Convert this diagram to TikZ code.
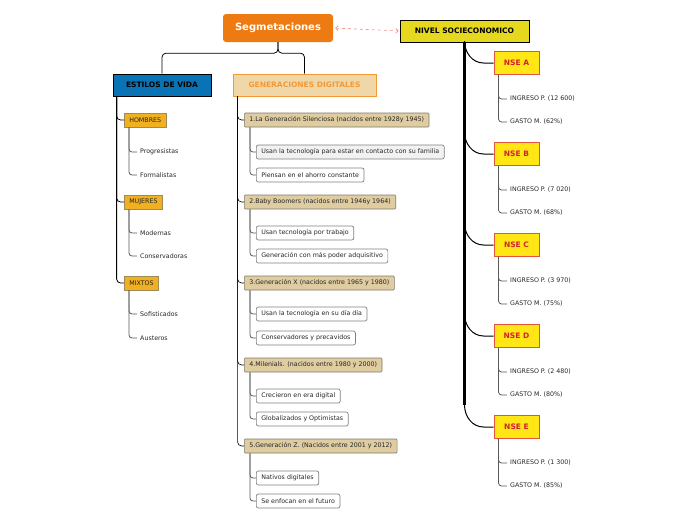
\documentclass[tikz,border=0pt]{standalone}
\usepackage{fontspec}
\setmainfont{DejaVu Sans}
\usetikzlibrary{positioning,arrows.meta}
\definecolor{segorange}{HTML}{EE7A12}
\definecolor{nivelyellow}{HTML}{E6D81E}
\definecolor{estblue}{HTML}{0A73B5}
\definecolor{gentan}{HTML}{EFD7A8}
\definecolor{genorange}{HTML}{F39A38}
\definecolor{gold}{HTML}{F0B020}
\definecolor{goldline}{HTML}{A08A5A}
\definecolor{tan}{HTML}{DFCCA0}
\definecolor{tanline}{HTML}{7E7A6E}
\definecolor{nseyellow}{HTML}{FFE614}
\definecolor{nseline}{HTML}{E2553A}
\definecolor{nsered}{HTML}{D42030}
\definecolor{salmon}{HTML}{F08A80}
\begin{document}
\begin{tikzpicture}[x = 1pt, y = -1pt,
  every node/.style = {font=\fontsize{6.3}{7.5}\selectfont, inner sep=0pt, text=black!85},
  rootbox/.style = {fill=segorange, rounded corners=3, minimum width=110, minimum height=28,
                    text=white, font=\fontsize{10}{12}\selectfont\bfseries},
  mainbox/.style = {draw=black, line width=0.8, minimum height=22, text=black,
                    font=\fontsize{7.5}{9}\selectfont\bfseries},
  goldbox/.style = {draw=goldline, fill=gold, line width=0.6, minimum height=14, inner xsep=5},
  tanbox/.style = {draw=tanline, fill=tan, line width=0.6, minimum height=14, inner xsep=5, rounded corners=1},
  subbox/.style = {draw=gray, fill=white, line width=0.7, minimum height=14, inner xsep=5, rounded corners=2},
  nsebox/.style = {draw=nseline, fill=nseyellow, line width=0.9, minimum width=45, minimum height=23,
                   text=nsered, font=\fontsize{7.5}{9}\selectfont\bfseries},
  leaf/.style = {inner xsep=3},
  trunkline/.style = {black, line width=0.8, rounded corners=4},
  leafline/.style = {gray!70!black, line width=0.8, rounded corners=3},
  linkarrow/.style = {salmon, dashed, line width=0.6, {Straight Barb[length=2.5pt]}-{Straight Barb[length=2.5pt]}}]
\useasboundingbox (0,0) rectangle (696,520);

% top
\node[rootbox] (seg) at (278,28) {Segmetaciones};
\node[mainbox, fill=nivelyellow, minimum width=129] (nivel) at (464.5,31) {NIVEL SOCIECONOMICO};
\draw[linkarrow, shorten <=2, shorten >=1] (seg.east) -- (nivel.west);

\node[mainbox, fill=estblue, minimum width=98] (estilos) at (162,85) {ESTILOS DE VIDA};
\node[mainbox, draw=genorange, fill=gentan, text=genorange, minimum width=143] (gen) at (304.5,85) {GENERACIONES DIGITALES};
\draw[trunkline] (seg.south) -- ++(0,11) -| (estilos.north);
\draw[trunkline] (seg.south) -- ++(0,11) -| (gen.north);

% estilos de vida
\node[goldbox, anchor=west] (hombres) at (124,120) {HOMBRES};
\node[goldbox, anchor=west] (mujeres) at (124,202) {MUJERES};
\node[goldbox, anchor=west] (mixtos) at (124,283) {MIXTOS};
\foreach \g in {hombres,mujeres,mixtos}
  \draw[trunkline] ([xshift=4]estilos.south west) |- (\g.west);

\node[leaf, anchor=west] (prog) at (137,152) {Progresistas};
\node[leaf, anchor=west] (form) at (137,175) {Formalistas};
\node[leaf, anchor=west] (mode) at (137,233) {Modernas};
\node[leaf, anchor=west] (cons) at (137,256) {Conservadoras};
\node[leaf, anchor=west] (sofi) at (137,314) {Sofisticados};
\node[leaf, anchor=west] (aust) at (137,338) {Austeros};
\draw[leafline] ([xshift=5]hombres.south west) |- (prog.west);
\draw[leafline] ([xshift=5]hombres.south west) |- (form.west);
\draw[leafline] ([xshift=5]mujeres.south west) |- (mode.west);
\draw[leafline] ([xshift=5]mujeres.south west) |- (cons.west);
\draw[leafline] ([xshift=5]mixtos.south west) |- (sofi.west);
\draw[leafline] ([xshift=5]mixtos.south west) |- (aust.west);

% generaciones digitales
\node[tanbox, anchor=west] (gen1) at (244,120) {1.La Generación Silenciosa (nacidos entre 1928y 1945)};
\node[tanbox, anchor=west] (gen2) at (244,202) {2.Baby Boomers (nacidos entre 1946y 1964)};
\node[tanbox, anchor=west] (gen3) at (244,283) {3.Generación X (nacidos entre 1965 y 1980)};
\node[tanbox, anchor=west] (gen4) at (244,365) {4.Milenials. (nacidos entre 1980 y 2000)};
\node[tanbox, anchor=west] (gen5) at (244,446) {5.Generación Z. (Nacidos entre 2001 y 2012)};
\foreach \g in {gen1,gen2,gen3,gen4,gen5}
  \draw[trunkline, line width=0.6] ([xshift=5]gen.south west) |- (\g.west);

\node[subbox, anchor=west, fill=gray!10] (s11) at (256,152) {Usan la tecnología para estar en contacto con su familia};
\node[subbox, anchor=west] (s12) at (256,175) {Piensan en el ahorro constante};
\node[subbox, anchor=west] (s21) at (256,233) {Usan tecnología por trabajo};
\node[subbox, anchor=west] (s22) at (256,256) {Generación con más poder adquisitivo};
\node[subbox, anchor=west] (s31) at (256,314) {Usan la tecnología en su día día};
\node[subbox, anchor=west] (s32) at (256,338) {Conservadores y precavidos};
\node[subbox, anchor=west] (s41) at (256,396) {Crecieron en era digital};
\node[subbox, anchor=west] (s42) at (256,419) {Globalizados y Optimistas};
\node[subbox, anchor=west] (s51) at (256,478) {Nativos digitales};
\node[subbox, anchor=west] (s52) at (256,501) {Se enfocan en el futuro};
\foreach \i in {1,...,5} {
  \draw[leafline] ([xshift=6]gen\i.south west) |- (s\i1.west);
  \draw[leafline] ([xshift=6]gen\i.south west) |- (s\i2.west);
}

% nivel socioeconomico
\foreach \n/\y/\ing/\gas in {A/63/12 600/62, B/154/7 020/68, C/245/3 970/75, D/336/2 480/80, E/427/1 300/85} {
  \node[nsebox] (nse\n) at (516.5,\y) {NSE \n};
  \node[leaf, anchor=west] (ing\n) at (507,\y+36) {INGRESO P. (\ing)};
  \node[leaf, anchor=west] (gas\n) at (507,\y+59) {GASTO M. (\gas\%)};
  \draw[black, line width=1] ([yshift=10]nivel.south |- nse\n.north) to[out=-90, in=180] ([xshift=-10]nse\n.west) -- (nse\n.west);
  \draw[leafline] ([xshift=5]nse\n.south west) |- (ing\n.west);
  \draw[leafline] ([xshift=5]nse\n.south west) |- (gas\n.west);
}
\draw[black, line width=3.2] (nivel.south) -- ([yshift=10]nivel.south |- nseE.north);
\end{tikzpicture}
\end{document}
